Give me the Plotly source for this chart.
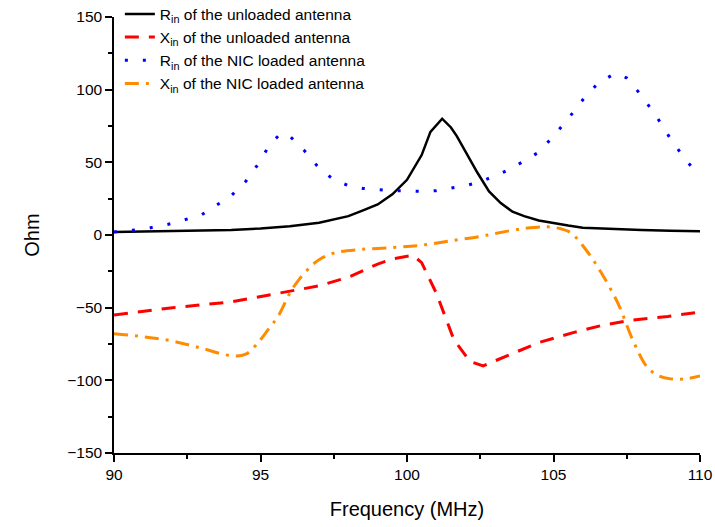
import plotly.graph_objects as go

# R_in of the unloaded antenna
f_r0 = [90, 92, 94, 95, 96, 97, 98, 98.5, 99, 99.5, 100, 100.5, 100.8, 101.2, 101.5, 101.7, 102, 102.4, 102.8, 103.2, 103.6, 104, 104.5, 105, 105.5, 106, 107, 108, 109, 110]
r0 = [2, 2.5, 3.5, 4.5, 6, 8.5, 13, 17, 21, 28, 38, 55, 71, 80, 74, 68, 57, 43, 30, 22, 16, 13, 10, 8, 6.5, 5, 4, 3.5, 3, 2.5]

# X_in of the unloaded antenna
f_x0 = [90, 92, 94, 96, 97, 98, 99, 99.5, 100.2, 100.5, 101, 101.6, 102.15, 102.6, 103.2, 103.9, 104.5, 105.7, 106.7, 107.7, 108.9, 110]
x0 = [-55, -50, -46, -39, -35, -29, -20, -16.5, -14, -19, -40, -72, -87, -90, -85, -79, -74, -67, -62, -58.5, -56, -53]

# R_in of the NIC loaded antenna
f_r1 = [90, 91, 92, 93, 94, 94.5, 95, 95.3, 95.7, 96, 96.5, 97, 97.5, 98, 98.5, 99, 99.5, 100, 100.5, 101, 101.5, 102, 102.5, 103, 103.5, 104, 104.5, 105, 105.5, 106, 106.5, 107, 107.2, 107.5, 108, 108.5, 109, 109.5, 109.8]
r1 = [2, 4, 8, 14, 27, 37, 51, 62, 70, 68, 58, 46, 38, 34, 32, 31, 30.5, 30.3, 30, 30.5, 32, 34, 36.5, 40.5, 45, 51, 57, 68, 80, 93, 104, 110, 111, 108, 96, 82, 66, 52, 45]

# X_in of the NIC loaded antenna
f_x1 = [90, 91, 92, 93, 94, 94.5, 95, 95.3, 95.6, 96, 96.3, 96.7, 97, 97.5, 98.4, 99.5, 100.5, 101.5, 102.5, 103, 104, 104.8, 105.3, 105.6, 106.1, 106.6, 107.2, 107.7, 108.2, 108.6, 109, 109.5, 110]
x1 = [-68, -70, -73, -78, -83, -82, -72, -64, -56, -40, -31, -22, -17, -12.5, -10, -8.7, -7, -4, -1, 1, 4.5, 5.6, 4, 1.4, -10, -25, -47, -72, -91, -97, -99, -99, -97]

fig = go.Figure()
fig.add_trace(go.Scatter(x=f_r0, y=r0, mode="lines", name="R<sub>in</sub> of the unloaded antenna",
                         line=dict(color="black", width=2.5)))
fig.add_trace(go.Scatter(x=f_x0, y=x0, mode="lines", name="X<sub>in</sub> of the unloaded antenna",
                         line=dict(color="#ff0000", width=3, dash="14px,10px")))
fig.add_trace(go.Scatter(x=f_r1, y=r1, mode="lines", name="R<sub>in</sub> of the NIC loaded antenna",
                         line=dict(color="#0000ff", width=3, dash="3px,15px")))
fig.add_trace(go.Scatter(x=f_x1, y=x1, mode="lines", name="X<sub>in</sub> of the NIC loaded antenna",
                         line=dict(color="#ff8c00", width=3, dash="14px,7px,3px,7px"), line_shape="spline"))

axis_common = dict(showline=True, linecolor="black", linewidth=1.5, ticks="outside", ticklen=7,
                   tickcolor="black", tickwidth=1.5, showgrid=False, zeroline=False, automargin=False,
                   tickfont=dict(family="Liberation Sans, Arial", size=15.5, color="black"))
fig.update_layout(
    width=715, height=527,
    margin=dict(l=114, r=15, t=17, b=74, autoexpand=False),
    paper_bgcolor="white", plot_bgcolor="white",
    font=dict(family="Liberation Sans, Arial", color="black"),
    xaxis=dict(range=[90, 110], dtick=5, title=dict(text="Frequency (MHz)", font=dict(size=20), standoff=20),
               minor=dict(ticks="outside", dtick=2.5, ticklen=4, tickcolor="black", tickwidth=1.5), **axis_common),
    yaxis=dict(range=[-150, 150], dtick=50, title=dict(text="Ohm", font=dict(size=20), standoff=22),
               minor=dict(ticks="outside", dtick=25, ticklen=4, tickcolor="black", tickwidth=1.5), **axis_common),
    legend=dict(x=0.01, y=1.045, xanchor="left", yanchor="top", bgcolor="rgba(0,0,0,0)",
                font=dict(family="Liberation Sans, Arial", size=15.5, color="black"), tracegroupgap=0),
)
fig.write_html("out.html")
